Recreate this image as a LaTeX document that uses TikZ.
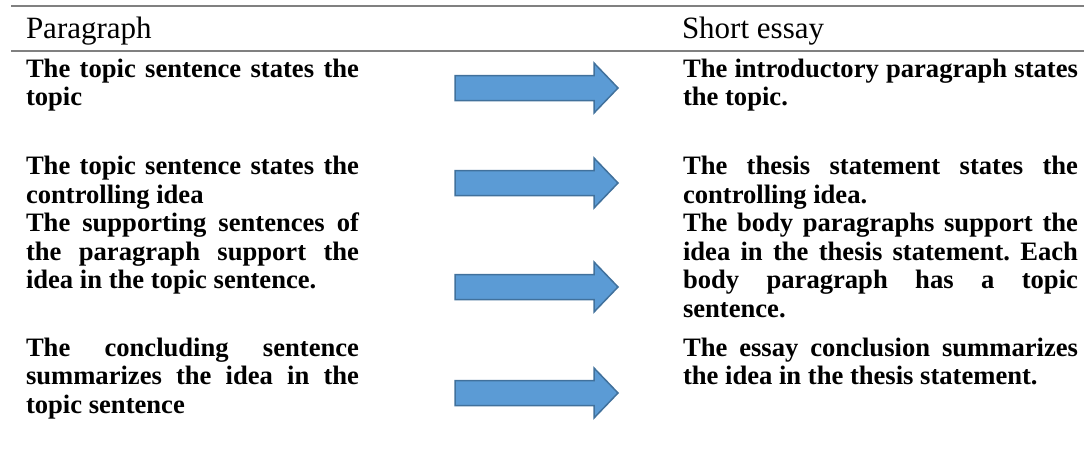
\documentclass[tikz,border=0pt]{standalone}
\usepackage{fontspec}
\setmainfont{Liberation Serif}
\definecolor{ruleGray}{HTML}{808080}
\definecolor{arrowFill}{HTML}{5B9BD5}
\definecolor{arrowEdge}{HTML}{41719C}
\frenchspacing
\begin{document}
\frenchspacing
\begin{tikzpicture}[x=1pt,y=-1pt,
  rule/.style={draw=ruleGray,line width=2pt},
  arrowshape/.style={fill=arrowFill,draw=arrowEdge,line width=1.5pt,line join=miter},
  bodytext/.style={anchor=base west,inner sep=0pt,outer sep=0pt,font=\bfseries\fontsize{26.6}{28.5}\selectfont},
  headtext/.style={anchor=base west,inner sep=0pt,outer sep=0pt,font=\fontsize{31}{34}\selectfont}]
\useasboundingbox (0,0) rectangle (1084,458);
% table rules
\draw[rule] (11,6) -- (1084,6);
\draw[rule] (11,51) -- (1084,51);
% headers
\node[headtext] (hl) at (26,38.5) {Paragraph};
\node[headtext] (hr) at (682,38.5) {Short essay};
% left column
\node[bodytext] (l1a) at (26,77) {\makebox[333pt][s]{The topic sentence states the}};
\node[bodytext] (l1b) at (26,105.5) {topic};
\node[bodytext] (l2a) at (26,174.5) {\makebox[333pt][s]{The topic sentence states the}};
\node[bodytext] (l2b) at (26,203) {controlling idea};
\node[bodytext] (l3a) at (26,231.5) {\makebox[333pt][s]{The supporting sentences of}};
\node[bodytext] (l3b) at (26,260) {\makebox[333pt][s]{the paragraph support the}};
\node[bodytext] (l3c) at (26,288.5) {idea in the topic sentence.};
\node[bodytext] (l4a) at (26,356) {\makebox[333pt][s]{The concluding sentence}};
\node[bodytext] (l4b) at (26,384.5) {\makebox[333pt][s]{summarizes the idea in the}};
\node[bodytext] (l4c) at (26,413) {topic sentence};
% right column
\node[bodytext] (r1a) at (683,77) {\makebox[395pt][s]{The introductory paragraph states}};
\node[bodytext] (r1b) at (683,105.5) {the topic.};
\node[bodytext] (r2a) at (683,174.5) {\makebox[395pt][s]{The thesis statement states the}};
\node[bodytext] (r2b) at (683,203) {controlling idea.};
\node[bodytext] (r3a) at (683,231.5) {\makebox[395pt][s]{The body paragraphs support the}};
\node[bodytext] (r3b) at (683,260) {\makebox[395pt][s]{idea in the thesis statement. Each}};
\node[bodytext] (r3c) at (683,288.5) {\makebox[395pt][s]{body paragraph has a topic}};
\node[bodytext] (r3d) at (683,317) {sentence.};
\node[bodytext] (r4a) at (683,356) {\makebox[395pt][s]{The essay conclusion summarizes}};
\node[bodytext] (r4b) at (683,384.5) {the idea in the thesis statement.};
% block arrows
\foreach \c in {88,183,287,393} {
  \draw[arrowshape] (455,\c-12.5) -- (594,\c-12.5) -- (594,\c-25) -- (618,\c)
    -- (594,\c+25) -- (594,\c+12.5) -- (455,\c+12.5) -- cycle;
}
\end{tikzpicture}
\end{document}
